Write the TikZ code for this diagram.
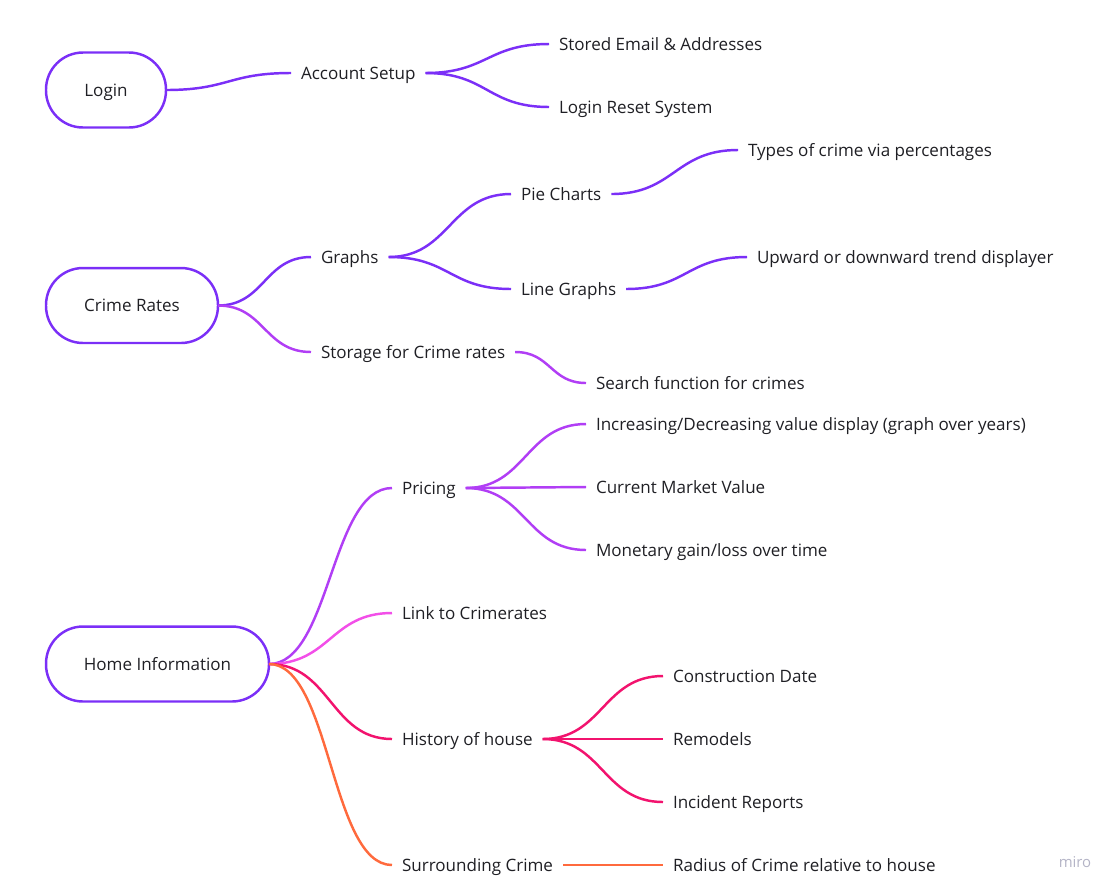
\documentclass[tikz,border=0pt]{standalone}
\usepackage{fontspec}
\setmainfont{Open Sans}
\usepackage{tikz,tkz-graph}
\usetikzlibrary{calc}
\definecolor{inkc}{HTML}{1F1F24}
\definecolor{violetc}{HTML}{7B2FF7}
\definecolor{orchidc}{HTML}{B13EF5}
\definecolor{pinkc}{HTML}{F24FE8}
\definecolor{rosec}{HTML}{F2136E}
\definecolor{coralc}{HTML}{FF6A3D}
\definecolor{mistc}{HTML}{B4B4C6}
\newcommand{\mindfont}{\fontsize{9.7pt}{12pt}\selectfont}
\tikzstyle{rootPill}=[shape = rectangle, rounded corners = 0.74cm, minimum height = 1.5cm, line width = 1.4pt, draw = violetc, font = \mindfont, text = inkc, text height = 0.72em, text depth = 0pt]
\tikzstyle{leafText}=[shape = rectangle, anchor = west, inner xsep = 0.2cm, inner ysep = 0pt, text height = 0.72em, text depth = 0pt, font = \mindfont, text = inkc]
\tikzstyle{watermark}=[font = \fontsize{8.5pt}{10pt}\selectfont, text = mistc]

\begin{document}
\begin{tikzpicture}[x = 0.02cm, y = -0.02cm]
\tikzstyle{VertexStyle} = []
\tikzstyle{EdgeStyle} = [line width = 1.4pt, to path = {let \p1 = (\tikztostart.east), \p2 = (\tikztotarget.west) in (\p1) .. controls ({(\x1+\x2)/2},\y1) and ({(\x1+\x2)/2},\y2) .. (\p2) \tikztonodes}]
\tikzstyle{LabelStyle} = [fill = none, draw = none]
\useasboundingbox (0,0) rectangle (1118,894);
% roots
\Vertex[style = {rootPill, minimum width = 2.4cm}, x = 106, y = 90, L = {Login}]{login}
\Vertex[style = {rootPill, minimum width = 3.44cm}, x = 132, y = 305.5, L = {Crime Rates}]{crime}
\Vertex[style = {rootPill, minimum width = 4.46cm}, x = 157.5, y = 664, L = {Home Information}]{home}
% login branch
\Vertex[style = leafText, x = 291, y = 73, L = {Account Setup}]{account}
\Vertex[style = leafText, x = 549, y = 44, L = {Stored Email \& Addresses}]{email}
\Vertex[style = leafText, x = 549, y = 107, L = {Login Reset System}]{reset}
% crime rates branch
\Vertex[style = leafText, x = 311, y = 257, L = {Graphs}]{graphs}
\Vertex[style = leafText, x = 511, y = 194, L = {Pie Charts}]{pie}
\Vertex[style = leafText, x = 738, y = 150, L = {Types of crime via percentages}]{types}
\Vertex[style = leafText, x = 511, y = 289, L = {Line Graphs}]{lines}
\Vertex[style = leafText, x = 747, y = 257, L = {Upward or downward trend displayer}]{trend}
\Vertex[style = leafText, x = 311, y = 352, L = {Storage for Crime rates}]{storage}
\Vertex[style = leafText, x = 586, y = 383, L = {Search function for crimes}]{search}
% home information branch
\Vertex[style = leafText, x = 392, y = 488, L = {Pricing}]{pricing}
\Vertex[style = leafText, x = 586, y = 424, L = {Increasing/Decreasing value display (graph over years)}]{value}
\Vertex[style = leafText, x = 586, y = 487, L = {Current Market Value}]{market}
\Vertex[style = leafText, x = 586, y = 550, L = {Monetary gain/loss over time}]{gain}
\Vertex[style = leafText, x = 392, y = 613, L = {Link to Crimerates}]{link}
\Vertex[style = leafText, x = 392, y = 739, L = {History of house}]{history}
\Vertex[style = leafText, x = 663, y = 676, L = {Construction Date}]{built}
\Vertex[style = leafText, x = 663, y = 739, L = {Remodels}]{remodels}
\Vertex[style = leafText, x = 663, y = 802, L = {Incident Reports}]{incidents}
\Vertex[style = leafText, x = 392, y = 865, L = {Surrounding Crime}]{surround}
\Vertex[style = leafText, x = 663, y = 865, L = {Radius of Crime relative to house}]{radius}
\node[watermark] (miro) at (1075,862) {miro};
% connectors
\Edge[style = {draw = violetc}](login)(account)
\Edge[style = {draw = violetc}](account)(email)
\Edge[style = {draw = violetc}](account)(reset)
\Edge[style = {draw = violetc}](crime)(graphs)
\Edge[style = {draw = violetc}](graphs)(pie)
\Edge[style = {draw = violetc}](pie)(types)
\Edge[style = {draw = violetc}](graphs)(lines)
\Edge[style = {draw = violetc}](lines)(trend)
\Edge[style = {draw = orchidc}](crime)(storage)
\Edge[style = {draw = orchidc}](storage)(search)
\Edge[style = {draw = orchidc}](home)(pricing)
\Edge[style = {draw = orchidc}](pricing)(value)
\Edge[style = {draw = orchidc}](pricing)(market)
\Edge[style = {draw = orchidc}](pricing)(gain)
\Edge[style = {draw = pinkc}](home)(link)
\Edge[style = {draw = rosec}](home)(history)
\Edge[style = {draw = rosec}](history)(built)
\Edge[style = {draw = rosec}](history)(remodels)
\Edge[style = {draw = rosec}](history)(incidents)
\Edge[style = {draw = coralc}](home)(surround)
\Edge[style = {draw = coralc}](surround)(radius)
\end{tikzpicture}
\end{document}
